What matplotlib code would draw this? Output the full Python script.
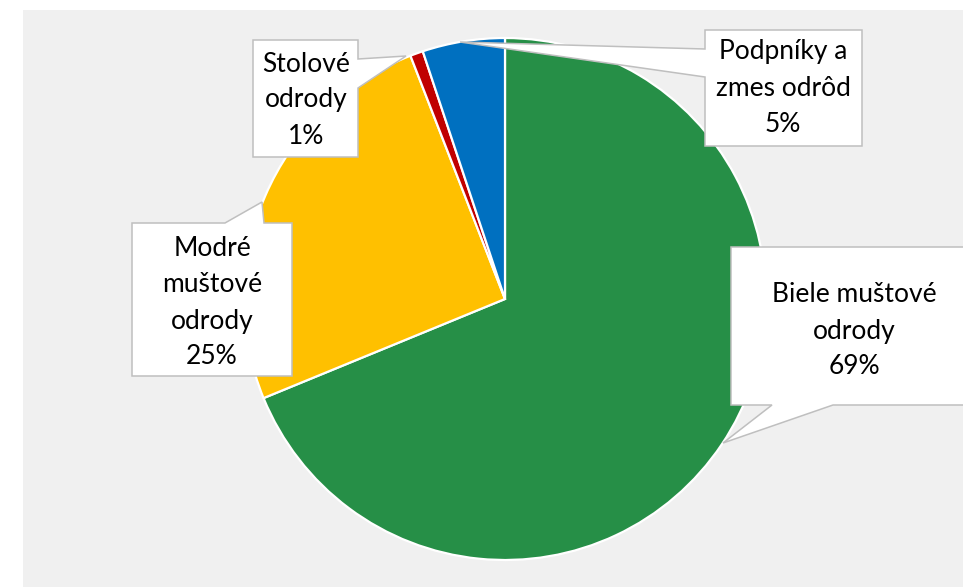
import matplotlib.pyplot as plt
from matplotlib.patches import Polygon

# data (percent shares, labels show rounded values)
categories = ["Biele muštové\nodrody", "Modré\nmuštové\nodrody", "Stolové\nodrody", "Podpníky a\nzmes odrôd"]
shares = [68.8, 25.3, 0.8, 5.1]
colors = ["#268F47", "#FFC000", "#C00000", "#0070C0"]

W, H = 963, 587

def p(x, y):
    # pixel (from top-left) -> data coords
    return (x, H - y)

fig = plt.figure(figsize=(W / 100, H / 100), dpi=100)
fig.patch.set_facecolor('white')
ax = fig.add_axes([0, 0, 1, 1])
ax.set_xlim(0, W)
ax.set_ylim(0, H)
ax.set_aspect('equal')
ax.axis('off')

# gray plot area
ax.add_patch(Polygon([p(23, 10), p(W, 10), p(W, H), p(23, H)], closed=True,
                     facecolor='#F0F0F0', edgecolor='none', zorder=0))

wedges, _ = ax.pie(shares, colors=colors, startangle=90, counterclock=False,
                   center=p(505, 299), radius=261,
                   wedgeprops=dict(edgecolor='white', linewidth=1.6))
for w in wedges:
    w.set_zorder(2)
ax.set_xlim(0, W)
ax.set_ylim(0, H)

# callout shapes (box + pointer), pixel coordinates
callouts = [
    [(731, 247), (975, 247), (975, 405), (833, 405), (723, 443), (772, 405), (731, 405)],
    [(132, 223), (225, 223), (262, 202), (264, 223), (292, 223), (292, 376), (132, 376)],
    [(253, 40), (358, 40), (358, 59), (406, 56), (358, 88), (358, 157), (253, 157)],
    [(705, 30), (862, 30), (862, 146), (705, 146), (705, 77), (460, 42), (705, 49)],
]
text_pos = [(854, 331), (212, 303), (306, 100), (783, 88)]

for shape, (tx, ty), name, val in zip(callouts, text_pos, categories, shares):
    ax.add_patch(Polygon([p(x, y) for x, y in shape], closed=True,
                         facecolor='white', edgecolor='#BFBFBF',
                         linewidth=1.1, zorder=3, clip_on=False))
    ax.text(*p(tx, ty), f"{name}\n{val:.0f}%", ha='center', va='center',
            fontsize=19, family='Lato', color='black',
            linespacing=1.55, zorder=4)

fig.savefig('out.png', dpi=100)
